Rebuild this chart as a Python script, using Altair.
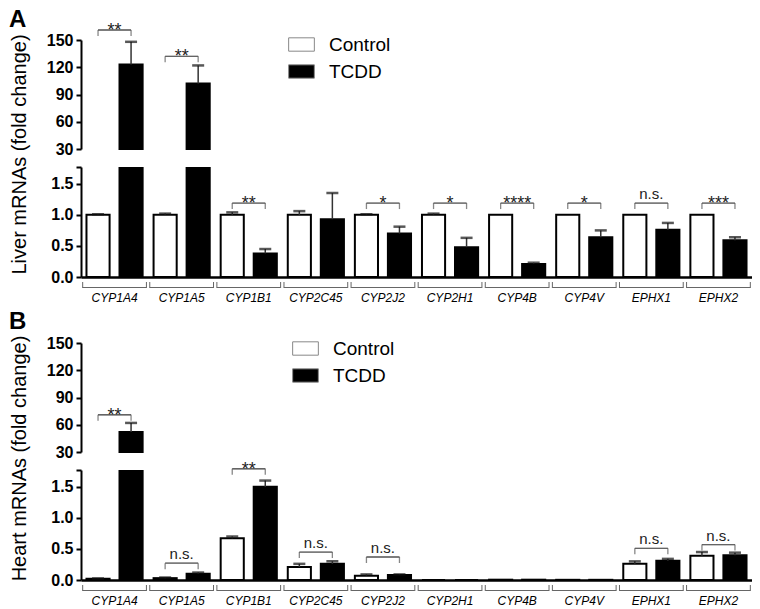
import altair as alt
import pandas as pd

genes = ["CYP1A4", "CYP1A5", "CYP1B1", "CYP2C45", "CYP2J2",
         "CYP2H1", "CYP4B", "CYP4V", "EPHX1", "EPHX2"]
groups = ["Control", "TCDD"]

# Panel A: liver
liver_ctrl = [1.0, 1.0, 1.0, 1.0, 1.0, 1.0, 1.0, 1.0, 1.0, 1.0]
liver_ctrl_err = [0.01, 0.02, 0.04, 0.06, 0.01, 0.02, 0.0, 0.0, 0.0, 0.0]
liver_tcdd = [123, 102, 0.38, 0.93, 0.70, 0.48, 0.21, 0.64, 0.76, 0.59]
liver_tcdd_err = [25, 20, 0.07, 0.42, 0.11, 0.15, 0.02, 0.11, 0.11, 0.05]
liver_sig = ["**", "**", "**", "", "*", "*", "****", "*", "n.s.", "***"]
liver_sig_h = [161, 132, 1.19, 0, 1.19, 1.19, 1.19, 1.19, 1.19, 1.19]

# Panel B: heart
heart_ctrl = [0.02, 0.03, 0.67, 0.21, 0.07, 0.0, 0.005, 0.003, 0.26, 0.39]
heart_ctrl_err = [0.005, 0.01, 0.03, 0.05, 0.02, 0.0, 0.0, 0.0, 0.04, 0.06]
heart_tcdd = [52, 0.10, 1.50, 0.26, 0.08, 0.0, 0.005, 0.003, 0.31, 0.40]
heart_tcdd_err = [10, 0.02, 0.10, 0.04, 0.01, 0.0, 0.0, 0.0, 0.03, 0.04]
heart_sig = ["**", "n.s.", "**", "n.s.", "n.s.", "", "", "", "n.s.", "n.s."]
heart_sig_h = [71, 0.27, 1.79, 0.45, 0.37, 0, 0, 0, 0.51, 0.57]

upper_ticks = [30, 60, 90, 120, 150]
lower_ticks = [0, 0.5, 1.0, 1.5, 1.77]
BREAK = 30
TOP = 150
LO_MAX = 1.77

FONT = "Liberation Sans"
W = 671
H_UP = 109
H_LO = 110


def long_df(ctrl, ctrl_err, tcdd, tcdd_err):
    rows = []
    for i, g in enumerate(genes):
        rows.append({"gene": g, "group": "Control", "value": ctrl[i],
                     "err": ctrl_err[i], "upper": ctrl[i] + ctrl_err[i]})
        rows.append({"gene": g, "group": "TCDD", "value": tcdd[i],
                     "err": tcdd_err[i], "upper": tcdd[i] + tcdd_err[i]})
    return pd.DataFrame(rows)


def sig_df(labels, heights):
    rows = []
    for g, lab, h in zip(genes, labels, heights):
        if lab:
            for grp in groups:
                rows.append({"gene": g, "group": grp, "label": lab, "h": h,
                             "star": 1 if lab.startswith("*") else 0})
    return pd.DataFrame(rows)


gene_df = pd.DataFrame({"gene": genes})

common_axis = dict(domainColor="black", domainWidth=2, tickColor="black",
                   tickWidth=2, tickSize=5, tickCount=10, labelFontSize=16,
                   labelFontWeight="bold", labelColor="black", labelPadding=3,
                   labelFont=FONT, grid=False, labelOverlap=False)

xaxis_lower = alt.Axis(title=None, labelFontStyle="italic", labelFontSize=12,
                       labelFont=FONT, labelColor="black", labelPadding=15,
                       ticks=False, domainWidth=2.5, domainColor="black",
                       labelAngle=0, grid=False)

fill_scale = alt.Scale(domain=groups, range=["white", "black"])


def xenc(axis, bandPosition=None):
    kw = {}
    if bandPosition is not None:
        kw["bandPosition"] = bandPosition
    return alt.X("gene:N", sort=genes,
                 scale=alt.Scale(domain=genes, paddingInner=0.05, paddingOuter=0.025),
                 axis=axis, **kw)


xoff = alt.XOffset("group:N", sort=groups,
                   scale=alt.Scale(domain=groups, paddingInner=0.3, paddingOuter=0.115))


def segment(df, sdf, upper_seg, ytitle, title_y, legend):
    if upper_seg:
        yscale = alt.Scale(domain=[BREAK, TOP], nice=False, zero=False)
        yaxis = alt.Axis(values=upper_ticks, title=None, format="d", **common_axis)
        xaxis = None
        vfilter = f"datum.value > {BREAK}"
        hfilter = f"datum.h > {BREAK}"
        height = H_UP
        clip = False
    else:
        yscale = alt.Scale(domain=[0, LO_MAX], nice=False, zero=True)
        yaxis = alt.Axis(values=lower_ticks,
                         labelExpr="datum.value > 1.6 ? '' : format(datum.value, '.1f')",
                         title=ytitle, titleX=-52, titleY=title_y, titleAngle=270,
                         titleAlign="center", titleBaseline="bottom",
                         titleFontSize=20, titleFontWeight="normal",
                         titleFont=FONT, titleColor="black", **common_axis)
        xaxis = xaxis_lower
        vfilter = "true"
        hfilter = f"datum.h > 0 && datum.h < {BREAK}"
        height = H_LO
        clip = True

    ytitle_kw = dict(title=ytitle if not upper_seg else None)

    bar_enc = dict(
        x=xenc(xaxis), xOffset=xoff,
        y=alt.Y("value:Q", scale=yscale, axis=yaxis, **ytitle_kw),
        fill=alt.Fill("group:N", scale=fill_scale, legend=legend),
    )
    if upper_seg:
        bar_enc["y2"] = alt.datum(BREAK)
    bars = (alt.Chart(df).transform_filter(vfilter)
            .mark_bar(stroke="black", strokeWidth=2, clip=clip)
            .encode(**bar_enc))

    err_line = (alt.Chart(df).transform_filter(vfilter).transform_filter("datum.err > 0")
                .mark_rule(color="#333", strokeWidth=1.5, clip=clip)
                .encode(x=xenc(xaxis), xOffset=xoff,
                        y=alt.Y("value:Q", **ytitle_kw), y2="upper:Q"))
    err_cap = (alt.Chart(df).transform_filter(vfilter).transform_filter("datum.err > 0")
               .mark_tick(orient="horizontal", size=12, thickness=2.5,
                          color="#111", clip=clip)
               .encode(x=xenc(xaxis), xOffset=xoff,
                       y=alt.Y("upper:Q", **ytitle_kw)))

    sig_base = alt.Chart(sdf).transform_filter(hfilter)
    sig_line = (sig_base.mark_tick(orient="horizontal", size=33, thickness=1.3,
                                   color="#555")
                .encode(x=xenc(xaxis), y=alt.Y("h:Q", **ytitle_kw)))
    sig_ends = (sig_base.mark_tick(orient="vertical", size=6, thickness=1.3,
                                   color="#555", yOffset=3)
                .encode(x=xenc(xaxis), xOffset=xoff, y=alt.Y("h:Q", **ytitle_kw)))
    sig_star = (sig_base.transform_filter("datum.star == 1 && datum.group == 'Control'")
                .mark_text(fontSize=18, dy=6, baseline="alphabetic", font=FONT,
                           color="#222")
                .encode(x=xenc(xaxis), y=alt.Y("h:Q", **ytitle_kw), text="label:N"))
    sig_ns = (sig_base.transform_filter("datum.star == 0 && datum.group == 'Control'")
              .mark_text(fontSize=15, dy=-4, baseline="alphabetic", font=FONT,
                         color="#222")
              .encode(x=xenc(xaxis), y=alt.Y("h:Q", **ytitle_kw), text="label:N"))

    layers = [bars, err_line, err_cap, sig_line, sig_ends, sig_star, sig_ns]

    if not upper_seg:
        brk_line = (alt.Chart(gene_df).mark_bar(color="#666")
                    .encode(x=xenc(xaxis), y=alt.value(H_LO + 10),
                            y2=alt.value(H_LO + 11)))
        brk_l = (alt.Chart(gene_df).mark_rule(color="#666", strokeWidth=1)
                 .encode(x=xenc(xaxis, 0), y=alt.value(H_LO + 5),
                         y2=alt.value(H_LO + 11)))
        brk_r = (alt.Chart(gene_df).mark_rule(color="#666", strokeWidth=1)
                 .encode(x=xenc(xaxis, 1), y=alt.value(H_LO + 5),
                         y2=alt.value(H_LO + 11)))
        layers += [brk_line, brk_l, brk_r]

    return alt.layer(*layers).properties(width=W, height=height)


def make_legend(lx, ly):
    return alt.Legend(title=None, orient="none", legendX=lx, legendY=ly,
                      symbolType="M-1,-0.52H1V0.52H-1Z", symbolSize=660,
                      symbolStrokeColor="#888", symbolStrokeWidth=1,
                      labelFontSize=19, labelFont=FONT, labelColor="black",
                      labelOffset=14, rowPadding=3, padding=0,
                      direction="vertical")


def panel(letter, df, sdf, ytitle, title_y, lx, ly, toff):
    up = segment(df, sdf, True, ytitle, title_y, make_legend(lx, ly))
    lo = segment(df, sdf, False, ytitle, title_y, None)
    return alt.vconcat(
        up, lo, spacing=18, bounds="flush",
        title=alt.TitleParams(letter, anchor="start", fontSize=24,
                              fontWeight="bold", font=FONT, color="black",
                              offset=toff),
    ).resolve_scale(fill="independent")


liver = long_df(liver_ctrl, liver_ctrl_err, liver_tcdd, liver_tcdd_err)
heart = long_df(heart_ctrl, heart_ctrl_err, heart_tcdd, heart_tcdd_err)
liver_s = sig_df(liver_sig, liver_sig_h)
heart_s = sig_df(heart_sig, heart_sig_h)

pA = panel("A", liver, liver_s, "Liver mRNAs (fold change)", -13, 207, -9, -10)
pB = panel("B", heart, heart_s, "Heart mRNAs (fold change)", -12, 211, -8, 1)

chart = (alt.vconcat(pA, pB, spacing=7)
         .resolve_scale(fill="independent")
         .properties(padding=0)
         .configure(font=FONT)
         .configure_view(stroke=None, strokeWidth=0)
         .configure_axis(grid=False, labelOverlap=False))

chart.save("out.html", embed_options={"renderer": "svg", "actions": False})
